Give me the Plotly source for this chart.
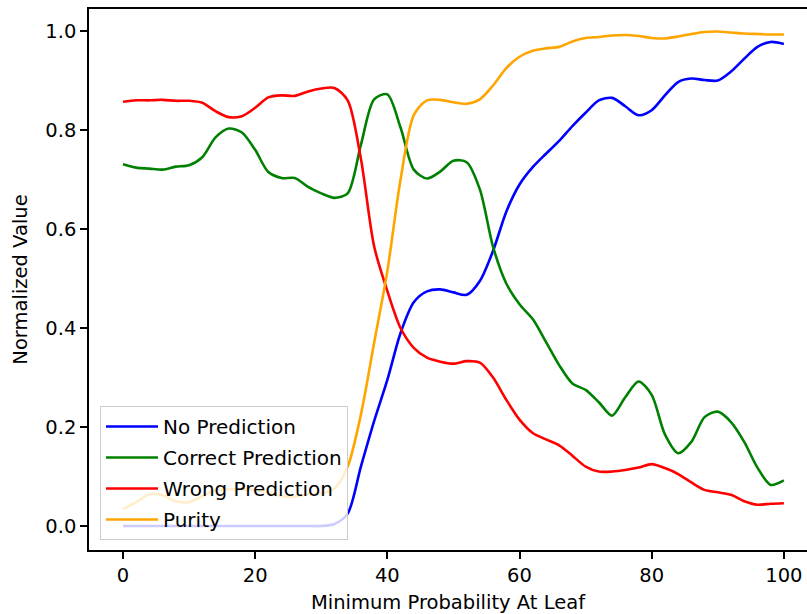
import plotly.graph_objects as go

x_vals = list(range(0, 101, 2))

no_prediction = [0.0, 0.0, 0.0, 0.0, 0.0, 0.0, 0.0, 0.0, 0.0, 0.0,
                 0.0, 0.0, 0.0, 0.0, 0.0, 0.0, 0.004, 0.025, 0.12, 0.212,
                 0.295, 0.390, 0.452, 0.474, 0.478, 0.472, 0.467, 0.495, 0.556, 0.635,
                 0.690, 0.725, 0.752, 0.778, 0.808, 0.835, 0.860, 0.865, 0.848, 0.830,
                 0.840, 0.870, 0.897, 0.904, 0.901, 0.900, 0.918, 0.944, 0.968, 0.978,
                 0.974]

correct_prediction = [0.731, 0.724, 0.722, 0.720, 0.726, 0.729, 0.745, 0.785, 0.803, 0.795,
                      0.760, 0.715, 0.703, 0.703, 0.685, 0.672, 0.663, 0.672, 0.770, 0.862,
                      0.872, 0.805, 0.720, 0.702, 0.716, 0.738, 0.735, 0.680, 0.564, 0.490,
                      0.448, 0.418, 0.372, 0.325, 0.288, 0.275, 0.250, 0.223, 0.260, 0.292,
                      0.265, 0.185, 0.147, 0.170, 0.220, 0.231, 0.210, 0.170, 0.118, 0.083,
                      0.092]

wrong_prediction = [0.857, 0.860, 0.860, 0.861, 0.859, 0.859, 0.855, 0.838, 0.826, 0.828,
                    0.845, 0.866, 0.870, 0.869, 0.878, 0.884, 0.885, 0.860, 0.742, 0.565,
                    0.475, 0.400, 0.360, 0.340, 0.332, 0.328, 0.333, 0.330, 0.300, 0.255,
                    0.215, 0.188, 0.175, 0.163, 0.142, 0.120, 0.110, 0.110, 0.113, 0.118,
                    0.125, 0.117, 0.105, 0.088, 0.073, 0.068, 0.063, 0.050, 0.043, 0.045,
                    0.046]

purity = [0.034, 0.048, 0.064, 0.062, 0.050, 0.048, 0.060, 0.072, 0.074, 0.074,
          0.073, 0.068, 0.060, 0.059, 0.064, 0.066, 0.076, 0.120, 0.225, 0.370,
          0.515, 0.700, 0.830, 0.860, 0.861, 0.856, 0.853, 0.862, 0.890, 0.925,
          0.948, 0.960, 0.965, 0.968, 0.979, 0.986, 0.988, 0.991, 0.992, 0.990,
          0.986, 0.985, 0.989, 0.994, 0.998, 0.999, 0.997, 0.995, 0.994, 0.993,
          0.993]

series = [
    ("No Prediction", no_prediction, "#0000ff"),
    ("Correct Prediction", correct_prediction, "#008000"),
    ("Wrong Prediction", wrong_prediction, "#ff0000"),
    ("Purity", purity, "#ffa500"),
]

x_ticks = [0, 20, 40, 60, 80, 100]
y_ticks = [0.0, 0.2, 0.4, 0.6, 0.8, 1.0]
y_tick_text = ["0.0", "0.2", "0.4", "0.6", "0.8", "1.0"]

fig = go.Figure()
for name, vals, color in series:
    fig.add_trace(go.Scatter(
        x=x_vals, y=vals, mode="lines", name=name, legendgroup=name,
        line=dict(color=color, width=2.6, shape="spline", smoothing=0.8),
    ))

font_family = "DejaVu Sans"
fs = 19.5
fig.update_layout(
    width=807, height=614,
    margin=dict(l=89, r=0, t=9, b=64),
    paper_bgcolor="white", plot_bgcolor="white",
    font=dict(family=font_family, size=fs, color="#000000"),
    showlegend=True,
    legend=dict(
        x=0.0153, y=0.0185, xanchor="left", yanchor="bottom",
        bgcolor="rgba(255,255,255,0.8)", bordercolor="#cccccc", borderwidth=1,
        font=dict(family=font_family, size=20, color="#000000"),
        tracegroupgap=2, itemwidth=52, traceorder="grouped",
    ),
    xaxis=dict(
        range=[-5.14, 103.5], tickvals=x_ticks, ticks="outside", ticklen=7,
        tickwidth=1.5, tickcolor="#000000", showline=True, linecolor="#000000",
        linewidth=1.5, mirror=True, showgrid=False, zeroline=False,
        tickfont=dict(size=fs),
        title=dict(text="Minimum Probability At Leaf", standoff=10,
                   font=dict(family=font_family, size=fs)),
    ),
    yaxis=dict(
        range=[-0.0485, 1.0445], tickvals=y_ticks, ticktext=y_tick_text,
        ticks="outside", ticklen=7, tickwidth=1.5, tickcolor="#000000",
        showline=True, linecolor="#000000", linewidth=1.5, mirror=False,
        showgrid=False, zeroline=False, tickfont=dict(size=fs),
        title=dict(text="Normalized Value", standoff=13,
                   font=dict(family=font_family, size=fs)),
    ),
)

fig.write_html("out.html")
